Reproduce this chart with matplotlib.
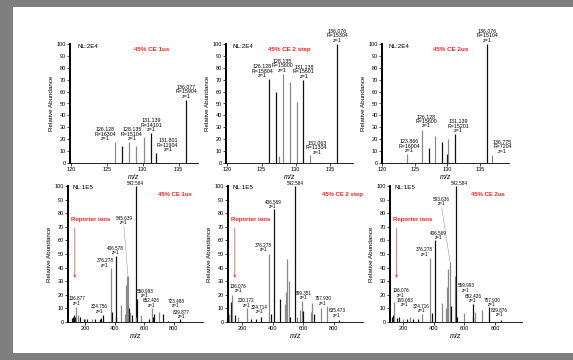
import matplotlib
matplotlib.use('Agg')
import matplotlib.pyplot as plt
from matplotlib.patches import Rectangle

plt.rcParams['font.family'] = ['Liberation Sans', 'DejaVu Sans']

# ---- top row: reporter ion region (m/z 120-138) ----
top_titles = ['45% CE 1us', '45% CE 2 step', '45% CE 2us']
top_nl = 'NL:2E4'

top_mz_1 = [126.128, 127.125, 128.135, 129.131, 130.141, 131.139, 131.801, 136.077]
top_int_1 = [17.4, 14.6, 18.0, 14.0, 21.8, 25.2, 8.4, 52.7]
top_shade_1 = ['g', 'k', 'g', 'g', 'g', 'k', 'k', 'k']
top_lab_1 = ['126.128\nR=16304\nz=1', '128.135\nR=15104\nz=1', '131.139\nR=14101\nz=1',
             '131.801\nR=11904\nz=1', '136.077\nR=15904\nz=1']

top_mz_2 = [126.128, 127.125, 127.6, 128.135, 129.131, 130.141, 131.138, 132.063, 136.076]
top_int_2 = [70.9, 59.4, 5.6, 75.0, 68.0, 51.0, 70.0, 6.4, 100.0]
top_shade_2 = ['k', 'k', 'g', 'g', 'g', 'g', 'k', 'g', 'k']
top_lab_2 = ['126.128\nR=15804\nz=1', '128.135\nR=15600\nz=1', '131.138\nR=15601\nz=1',
             '132.063\nR=11304\nz=1', '136.076\nR=15304\nz=1']

top_mz_3 = [123.866, 126.128, 127.125, 128.135, 129.131, 129.9, 130.141, 131.139, 136.076, 136.775]
top_int_3 = [7.8, 28.0, 12.9, 23.0, 17.6, 7.8, 20.4, 24.6, 100.0, 7.0]
top_shade_3 = ['g', 'g', 'k', 'g', 'k', 'k', 'g', 'k', 'k', 'g']
top_lab_3 = ['123.866\nR=16004\nz=1', '126.128\nR=15600\nz=1', '131.139\nR=15201\nz=1',
             '136.076\nR=15104\nz=1', '136.775\nR=7204\nz=1']

# ---- bottom row: full MS2 spectra ----
bot_nl = 'NL:1E5'
rep_text = 'Reporter ions'

bot_mz_1 = [115, 120, 126, 128, 131, 136.877, 150, 165, 190, 203, 215, 245, 270, 300, 310,
            324.756, 376.278, 381, 406.578, 411, 440, 470, 476, 483, 490, 496, 505, 515,
            542.584, 546, 550.993, 580, 630, 652.426, 658, 665, 700, 723.488, 760, 839.877]
bot_int_1 = [3, 4, 5, 3, 4, 11, 5, 4, 2, 2, 2, 2, 2, 2, 3,
             5, 39.5, 7, 48.5, 4, 12.5, 6, 27, 34, 34, 10, 7, 5,
             100, 4, 17, 5, 2, 10, 4, 6, 7.6, 5.6, 1, 2]
bot_shade_1 = ['k', 'k', 'k', 'k', 'k', 'g', 'g', 'k', 'k', 'g', 'k', 'g', 'k', 'k', 'k',
               'k', 'g', 'k', 'k', 'k', 'g', 'g', 'g', 'g', 'g', 'k', 'g', 'k',
               'k', 'g', 'k', 'g', 'k', 'g', 'k', 'k', 'g', 'k', 'k', 'k']
bot_lab_1 = ['136.877\nz=1', '324.756\nz=1', '376.278\nz=1', '406.578\nz=1', '545.639\nz=1',
             '542.584', '550.993\nz=1', '652.426\nz=1', '723.488\nz=1', '839.877\nz=1']

bot_mz_2 = [113, 130, 136.076, 152, 174, 230.172, 261, 293, 324.714, 376.278, 389, 406.569,
            445, 478, 485, 491, 504, 511, 542.584, 559, 576, 589.351, 595, 652, 659, 667,
            717, 757.930, 835.473]
bot_int_2 = [6, 15, 20, 5, 3.7, 10.5, 2, 2, 4, 50, 6, 83,
             16.7, 13.5, 22, 46, 30, 4, 100, 4, 9, 15.5, 8, 7, 14, 6,
             10.5, 11.5, 1.7]
bot_shade_2 = ['g', 'k', 'g', 'k', 'g', 'g', 'k', 'k', 'k', 'g', 'k', 'k',
               'k', 'g', 'g', 'g', 'g', 'k', 'k', 'g', 'g', 'g', 'k', 'g', 'g', 'k',
               'g', 'g', 'k']
bot_lab_2 = ['136.076\nz=1', '230.172\nz=1', '324.714\nz=1', '376.278\nz=1', '406.569\nz=1',
             '542.584', '589.351\nz=1', '757.930\nz=1', '835.473\nz=1']

bot_mz_3 = [124, 130, 136.076, 156, 169.083, 200, 222, 244, 261, 298, 324.716, 376.278, 390,
            406.569, 451, 480, 488, 495, 506, 514, 535, 542.584, 548, 600, 652.426, 658, 667,
            717, 757.930, 839.876]
bot_int_3 = [4, 5, 15, 3, 4, 2, 2, 3.5, 2.5, 2, 5.6, 47, 6.6,
             60, 14, 10.5, 25.7, 39, 44, 11.5, 34, 100, 4, 6.6, 13.5, 4, 7.4,
             8.6, 11, 1.7]
bot_shade_3 = ['k', 'k', 'g', 'k', 'k', 'g', 'k', 'g', 'k', 'k', 'g', 'g', 'k',
               'k', 'g', 'g', 'g', 'g', 'g', 'k', 'g', 'k', 'k', 'g', 'k', 'k', 'g',
               'g', 'k', 'k']
bot_lab_3 = ['136.076\nz=1', '169.083\nz=1', '324.716\nz=1', '376.278\nz=1', '406.569\nz=1',
             '593.636\nz=1', '542.584', '559.993\nz=1', '652.426\nz=1', '757.930\nz=1',
             '839.876\nz=1']

# label anchor spots (data coords) and optional leader target
top_lab_pos = [
    [(124.8, 18.5), (128.5, 18.5), (131.2, 26), (133.5, 9), (136.1, 54)],
    [(125.15, 71.5), (128.1, 76), (131.2, 71), (133.1, 7), (136.1, 101)],
    [(124.2, 8.4), (126.8, 29), (131.7, 25.2), (136.07, 101), (138.4, 7.8)],
]
bot_lab_pos = [
    [(144, 12), (297, 6), (335, 40), (404, 49), (463, 71, 490, 34), (537, 100), (604, 17.6),
     (649, 10.5), (815, 10), (850, 2.2)],
    [(176, 21), (228, 10.5), (315, 5.6), (341, 51.5), (402, 83), (546, 100), (600, 16),
     (728, 12), (820, 3.2)],
    [(183, 18), (211, 11), (320, 6.6), (338, 48), (429, 60), (451, 85, 506, 44), (565, 100),
     (610, 21.5), (655, 14), (779, 11), (827, 3.7)],
]

W, H = 573, 360
shade = {'k': '#111111', 'g': '#8a8a8a'}
red = '#ff2020'

fig = plt.figure(figsize=(W / 100, H / 100), dpi=100)
fig.patch.set_facecolor('#7f7f7f')
fig.patches.append(Rectangle((13 / W, 7 / H), 560 / W, 346 / H, transform=fig.transFigure,
                             facecolor='white', edgecolor='none', zorder=-10))


def make_ax(x0, x1, y0, y1):
    ax = fig.add_axes([x0 / W, 1 - y1 / H, (x1 - x0) / W, (y1 - y0) / H])
    ax.set_facecolor('none')
    for s in ['top', 'right']:
        ax.spines[s].set_visible(False)
    ax.spines['left'].set_linewidth(1.4)
    ax.spines['bottom'].set_linewidth(0.6)
    ax.set_ylim(0, 100)
    ax.set_yticks(range(0, 101, 10))
    ax.tick_params(labelsize=4, length=2, width=0.5, pad=1)
    ax.set_ylabel('Relative Abundance', fontsize=4.5, labelpad=2)
    ax.set_xlabel('m/z', fontsize=5, style='italic', labelpad=1)
    return ax


def draw(ax, mz, inten, shades, labels, pos, fs):
    ax.vlines(mz, 0, inten, colors=[shade[s] for s in shades], lw=0.9)
    for t, p in zip(labels, pos):
        ax.text(p[0], p[1], t, fontsize=fs, ha='center', va='bottom', linespacing=0.85,
                clip_on=False)
        if len(p) == 4:
            ax.plot([p[0], p[2]], [p[1] - 1, p[3]], color='#999999', lw=0.4)


top_boxes = [(70, 198), (226, 353), (382, 509)]
top_xlims = [(119.9, 137.7), (119.8, 138.4), (120.0, 139.4)]
top_data = [(top_mz_1, top_int_1, top_shade_1, top_lab_1),
            (top_mz_2, top_int_2, top_shade_2, top_lab_2),
            (top_mz_3, top_int_3, top_shade_3, top_lab_3)]
title_x = [0.64, 0.50, 0.54]

for i in range(3):
    ax = make_ax(top_boxes[i][0], top_boxes[i][1], 44, 163)
    ax.set_xlim(*top_xlims[i])
    ax.set_xticks([120, 125, 130, 135])
    mz, inten, sh, lab = top_data[i]
    draw(ax, mz, inten, sh, lab, top_lab_pos[i], 3.8)
    ax.text(0.055, 0.975, top_nl, transform=ax.transAxes, fontsize=4.5, va='center')
    ax.text(title_x[i], 0.95, top_titles[i], transform=ax.transAxes, fontsize=4.5,
            color=red, weight='bold', ha='center', va='center')

bot_boxes = [(68, 203), (228, 363), (390, 522)]
bot_xlims = [(85, 997), (108, 990), (113, 976)]
bot_data = [(bot_mz_1, bot_int_1, bot_shade_1, bot_lab_1),
            (bot_mz_2, bot_int_2, bot_shade_2, bot_lab_2),
            (bot_mz_3, bot_int_3, bot_shade_3, bot_lab_3)]
btitle_x = [0.79, 0.845, 0.74]

for i in range(3):
    ax = make_ax(bot_boxes[i][0], bot_boxes[i][1], 186, 322)
    ax.set_xlim(*bot_xlims[i])
    ax.set_xticks([200, 400, 600, 800])
    mz, inten, sh, lab = bot_data[i]
    draw(ax, mz, inten, sh, lab, bot_lab_pos[i], 3.3)
    ax.text(0.035, 0.99, bot_nl, transform=ax.transAxes, fontsize=4.5, va='center')
    ax.text(btitle_x[i], 0.94, top_titles[i], transform=ax.transAxes, fontsize=4.3,
            color=red, weight='bold', ha='center', va='center')
    ax.text(0.025, 0.75, rep_text, transform=ax.transAxes, fontsize=4.3, color=red,
            weight='bold', va='center')
    ax.annotate('', xy=(0.05, 0.30), xytext=(0.05, 0.71), xycoords='axes fraction',
                arrowprops=dict(arrowstyle='-|>', color='#f07070', lw=0.7,
                                mutation_scale=4))

fig.savefig('out.png', dpi=100)
